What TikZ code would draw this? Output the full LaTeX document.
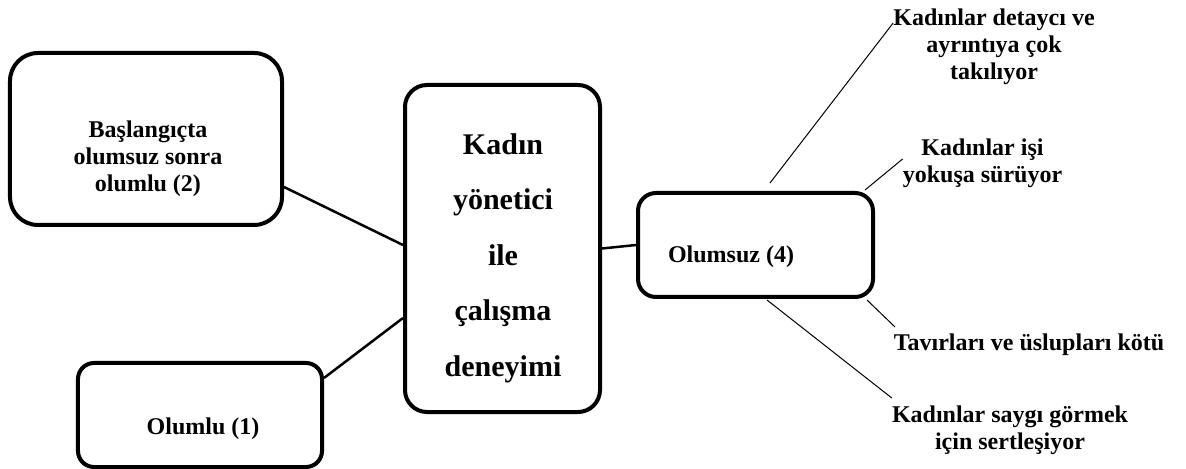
\documentclass[tikz,border=0pt]{standalone}
\usepackage{fontspec}
\setmainfont{Liberation Serif}
\begin{document}
\begin{tikzpicture}[x=1bp, y=-1bp,
  box/.style={draw=black, line width=4bp, fill=white, inner sep=0pt},
  lbl/.style={inner sep=0pt, align=center, font=\fontsize{24bp}{27bp}\selectfont\bfseries},
  big/.style={inner sep=0pt, align=center, font=\fontsize{30bp}{55.5bp}\selectfont\bfseries},
  thick link/.style={draw=black, line width=2.5bp},
  thin link/.style={draw=black, line width=1bp}]
\useasboundingbox (0,0) rectangle (1186,469);

% boxes
\node[box, rounded corners=28bp, minimum width=272bp, minimum height=172bp] (a) at (146,139) {};
\node[box, rounded corners=22bp, minimum width=195bp, minimum height=327bp] (c) at (502.5,248.5) {};
\node[box, rounded corners=16bp, minimum width=244bp, minimum height=104bp] (b) at (200,415) {};
\node[box, rounded corners=18bp, minimum width=235bp, minimum height=104bp] (neg) at (755.5,245) {};

% texts inside the boxes
\node[lbl] (at) at (148,159) {Başlangıçta\\olumsuz sonra\\olumlu (2)};
\node[big] (ct) at (503,258) {Kadın\\yönetici\\ile\\çalışma\\deneyimi};
\node[lbl] (bt) at (203,429) {Olumlu (1)};
\node[lbl] (negt) at (731,257) {Olumsuz (4)};

% free-standing labels
\node[lbl] (t1) at (994,47) {Kadınlar detaycı ve\\ayrıntıya çok\\takılıyor};
\node[lbl] (t2) at (982.5,163) {Kadınlar işi\\yokuşa sürüyor};
\node[lbl] (t3) at (1029,345) {Tavırları ve üslupları kötü};
\node[lbl] (t4) at (1010,430) {Kadınlar saygı görmek\\için sertleşiyor};

% links to the central box
\draw[thick link] ([yshift=-48bp]a.east) -- ([yshift=3.5bp]c.west);
\draw[thick link] ([yshift=37bp]b.east) -- ([yshift=-69.5bp]c.west);
\draw[thick link] (c.east) -- (neg.west);

% links from the negative box
\draw[thin link] ([xshift=14.5bp, yshift=8bp]neg.north) -- ([yshift=24bp]t1.west);
\draw[thin link] ([xshift=-10bp, yshift=1bp]neg.north east) -- ([xshift=0bp, yshift=4bp]t2.west);
\draw[thin link] ([xshift=-8bp, yshift=-1bp]neg.south east) -- ([xshift=-134bp, yshift=18bp]t3.center);
\draw[thin link] ([xshift=11.5bp, yshift=-1bp]neg.south) -- ([xshift=0bp, yshift=32bp]t4.west);
\end{tikzpicture}
\end{document}
